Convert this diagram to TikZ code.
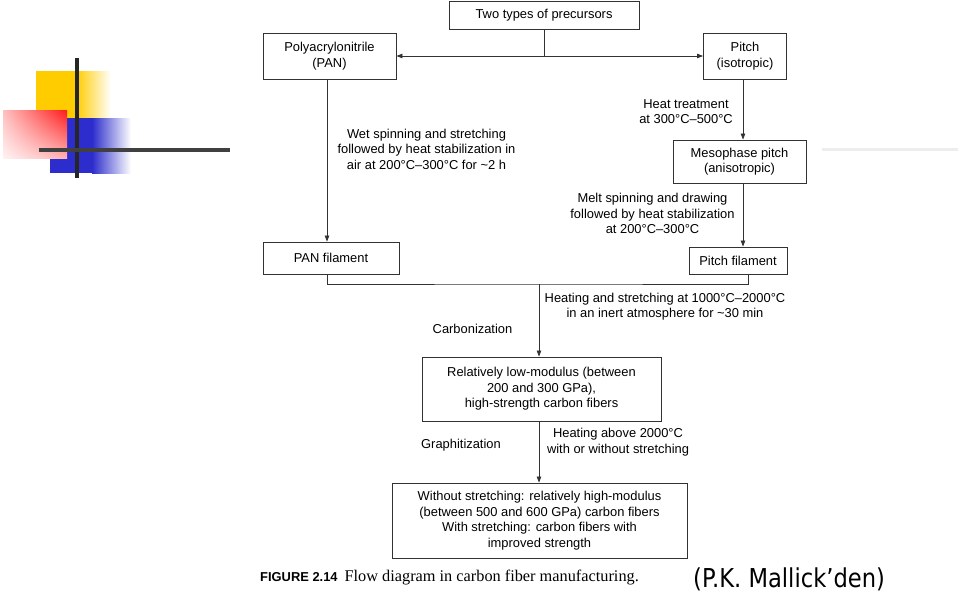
\documentclass[tikz,border=0pt]{standalone}
\usepackage{fontspec}
\usetikzlibrary{arrows.meta,shadings}
\newfontfamily\dfont{Liberation Sans}
\newfontfamily\capsans{Liberation Sans}
\newfontfamily\capserif{Liberation Serif}
\newfontfamily\srcfont[FakeStretch=0.87]{DejaVu Sans}
\definecolor{yel}{RGB}{255,204,0}
\definecolor{blu}{RGB}{45,45,205}
\definecolor{lin}{RGB}{50,50,50}
\begin{document}
\begin{tikzpicture}[x=1pt,y=-1pt,
  box/.style={draw=lin, line width=0.9pt, align=center, inner sep=0pt,
    font=\dfont\fontsize{12.9}{15.5}\selectfont},
  lbl/.style={align=center, inner sep=0pt, font=\dfont\fontsize{12.9}{15.5}\selectfont},
  conn/.style={draw=lin, line width=0.7pt},
  arr/.style={conn, -{Triangle[length=6pt,width=4.5pt]}}
]
\useasboundingbox (0,0) rectangle (960,595);
% decoration
\fill[yel] (36,71) rectangle (76,118);
\shade[left color=yel, right color=white] (76,71) rectangle (111,118);
\fill[blu] (50,118) rectangle (92,173);
\shade[left color=blu, right color=white] (92,118) rectangle (131,173);
\shade[upper right=red!90, upper left=red!25, lower right=red!30, lower left=red!5] (3,110) rectangle (67,158);
\draw[line width=3.5pt, black!85] (77,58) -- (77,178);
\draw[line width=3.5pt, black!75] (39,150) -- (230,150);
\draw[line width=3pt, black!7] (822,149) -- (958,149);

% boxes
\node[box, minimum width=190pt, minimum height=28pt] (top) at (544,15) {Two types of precursors};
\node[box, minimum width=133pt, minimum height=46pt] (pan) at (329.5,56) {Polyacrylonitrile\\(PAN)};
\node[box, minimum width=83pt, minimum height=46pt] (pitch) at (745,56) {Pitch\\(isotropic)};
\node[box, minimum width=133pt, minimum height=43pt] (meso) at (739.5,161.5) {Mesophase pitch\\(anisotropic)};
\node[box, minimum width=136pt, minimum height=32pt] (panf) at (331,258) {PAN filament};
\node[box, minimum width=98pt, minimum height=27pt] (pitchf) at (738,260.5) {Pitch filament};
\node[box, minimum width=239pt, minimum height=64pt] (b1) at (541.5,389) {Relatively low-modulus (between\\200 and 300 GPa),\\high-strength carbon fibers};
\node[box, minimum width=295pt, minimum height=75pt] (b2) at (539.5,520.5) {Without stretching: relatively high-modulus\\(between 500 and 600 GPa) carbon fibers\\With stretching: carbon fibers with\\improved strength};

% labels
\node[lbl] (wet) at (426.5,149) {Wet spinning and stretching\\followed by heat stabilization in\\air at 200°C–300°C for \textasciitilde2 h};
\node[lbl] (heat) at (686,111.5) {Heat treatment\\at 300°C–500°C};
\node[lbl] (melt) at (652.5,213.5) {Melt spinning and drawing\\followed by heat stabilization\\at 200°C–300°C};
\node[lbl] (hs) at (665,306.5) {Heating and stretching at 1000°C–2000°C\\in an inert atmosphere for \textasciitilde30 min};
\node[lbl] (carb) at (472.5,329) {Carbonization};
\node[lbl] (graph) at (461,445) {Graphitization};
\node[lbl] (ha) at (618,442) {Heating above 2000°C\\with or without stretching};

% connectors
\coordinate (sp) at (544,56);
\coordinate (cl) at (327,0);
\coordinate (cr) at (743,0);
\coordinate (cm) at (748,0);
\coordinate (mj) at (539,284);
\draw[conn] (top.south -| sp) -- (sp);
\draw[arr] (sp) -- (pan.east);
\draw[arr] (sp) -- (pitch.west);
\draw[arr] (pan.south -| cl) -- (panf.north -| cl);
\draw[arr] (pitch.south -| cr) -- (meso.north -| cr);
\draw[arr] (meso.south -| cr) -- (pitchf.north -| cr);
\draw[conn] (panf.south -| cl) |- (mj) -| (pitchf.south -| cm);
\draw[arr] (mj) -- (mj |- b1.north);
\draw[arr] (b1.south -| mj) -- (b2.north -| mj);

% caption
\node[anchor=base west, inner sep=0pt] (cap) at (260,581) {{\capsans\bfseries\fontsize{12.9}{15}\selectfont FIGURE 2.14}\hspace{7pt}{\capserif\fontsize{16.3}{19}\selectfont Flow diagram in carbon fiber manufacturing.}};
\node[anchor=base west, inner sep=0pt, font=\srcfont\fontsize{26}{29}\selectfont] (src) at (693,587) {(P.K. Mallick’den)};
\end{tikzpicture}
\end{document}
